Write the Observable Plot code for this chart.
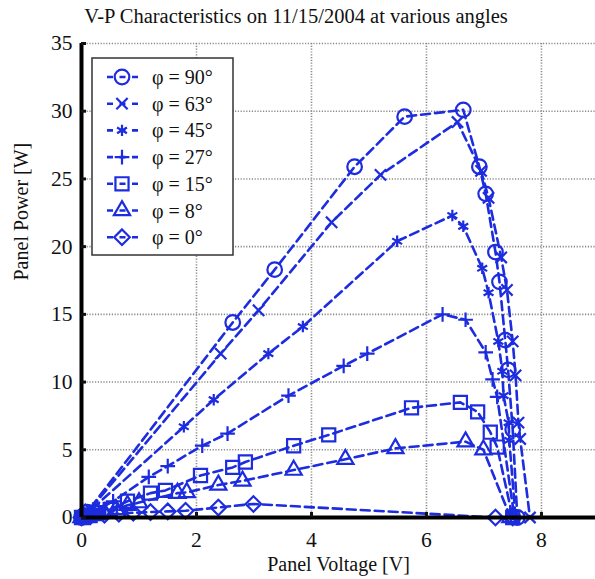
<!DOCTYPE html>
<html><head><meta charset="utf-8">
<script src="https://cdn.jsdelivr.net/npm/d3@7"></script>
<script src="https://cdn.jsdelivr.net/npm/@observablehq/plot@0.6"></script>
<style>
body{margin:0;background:#fff;}
#wrap{position:relative;width:595px;height:579px;overflow:hidden;font-family:"Liberation Serif","DejaVu Serif",serif;}
#title{position:absolute;left:0;top:5px;width:592px;text-align:center;font-size:20.5px;color:#111;white-space:nowrap;}
#chart{position:absolute;left:0;top:35px;}
</style></head>
<body>
<div id="wrap"><div id="title"></div><div id="chart"></div></div>
<script>
const titleText = "V-P Characteristics on 11/15/2004 at various angles";
const xLabel = "Panel Voltage [V]";
const yLabel = "Panel Power [W]";
const xTicks = [0, 2, 4, 6, 8];
const yTicks = [0, 5, 10, 15, 20, 25, 30, 35];

const seriesNames = ["φ = 90°", "φ = 63°", "φ = 45°", "φ = 27°", "φ = 15°", "φ = 8°", "φ = 0°"];
const seriesSymbols = ["circle", "times", "asterisk", "plus", "square", "triangle", "diamond2"];

const v90 = [0, 0.04, 0.1, 2.63, 3.36, 4.75, 5.62, 6.64, 6.92, 7.03, 7.2, 7.27, 7.37, 7.42, 7.5, 7.58];
const p90 = [0, 0.15, 0.4, 14.4, 18.3, 25.9, 29.6, 30.1, 25.9, 23.9, 19.6, 17.4, 13.1, 10.9, 6.5, 0];
const v63 = [0, 0.06, 0.15, 2.42, 3.08, 4.35, 5.2, 6.54, 6.95, 7.08, 7.3, 7.4, 7.5, 7.55, 7.6, 7.63, 7.8];
const p63 = [0, 0.2, 0.6, 12.1, 15.3, 21.8, 25.3, 29.2, 25.6, 23.6, 19.2, 16.8, 13.0, 10.5, 7.0, 5.8, 0];
const v45 = [0, 0.08, 0.2, 1.78, 2.3, 3.25, 3.85, 5.49, 6.45, 6.64, 6.97, 7.08, 7.25, 7.32, 7.34, 7.43, 7.44, 7.55];
const p45 = [0, 0.25, 0.7, 6.7, 8.7, 12.1, 14.1, 20.4, 22.3, 21.5, 18.4, 16.6, 13.0, 10.8, 9.0, 7.0, 5.7, 0];
const v27 = [0, 0.12, 0.3, 0.55, 1.17, 1.5, 2.1, 2.54, 3.6, 4.56, 4.97, 6.28, 6.68, 7.03, 7.15, 7.23, 7.53];
const p27 = [0, 0.25, 0.6, 1.2, 3.0, 3.8, 5.3, 6.2, 9.0, 11.2, 12.1, 15.0, 14.6, 12.2, 10.2, 8.9, 0];
const v15 = [0, 0.15, 0.3, 0.5, 0.8, 1.2, 1.46, 2.07, 2.63, 2.85, 3.69, 4.3, 5.74, 6.59, 6.89, 7.11, 7.23, 7.5];
const p15 = [0, 0.15, 0.35, 0.6, 1.2, 1.8, 2.0, 3.1, 3.7, 4.1, 5.3, 6.1, 8.1, 8.5, 7.8, 6.3, 5.2, 0];
const v8 = [0, 0.2, 0.4, 0.6, 0.8, 1.0, 1.67, 1.83, 2.38, 2.8, 3.69, 4.59, 5.46, 6.68, 6.99, 7.46];
const p8 = [0, 0.15, 0.35, 0.6, 0.9, 1.1, 1.8, 1.85, 2.4, 2.7, 3.5, 4.3, 5.1, 5.6, 5.0, 0];
const v0 = [0, 0.15, 0.4, 0.65, 0.9, 1.2, 1.5, 1.81, 2.38, 2.99, 7.2, 7.5];
const p0 = [0, 0.08, 0.2, 0.28, 0.35, 0.4, 0.45, 0.5, 0.74, 1.0, 0.0, 0];

const voltages = [v90, v63, v45, v27, v15, v8, v0];
const powers = [p90, p63, p45, p27, p15, p8, p0];
const markerR = [7.3, 5.2, 5.4, 4.8, 7.4, 6.0, 7.0];

const blue = "rgb(28,44,222)";
const serif = "'Liberation Serif','DejaVu Serif',serif";

const rows = [];
seriesNames.forEach((name, i) => {
  voltages[i].forEach((v, j) => rows.push({series: name, idx: i, V: v, P: powers[i][j]}));
});

document.getElementById("title").textContent = titleText;

const marks = [
  Plot.gridX(xTicks.filter(d => d > 0), {stroke: "#8a8a8a", strokeOpacity: 1, strokeWidth: 1.6, strokeDasharray: "1.2,1.6"}),
  Plot.gridY(yTicks.filter(d => d > 0), {stroke: "#8a8a8a", strokeOpacity: 1, strokeWidth: 1.6, strokeDasharray: "1.2,1.6"}),
];
seriesNames.forEach((name, i) => {
  const d = rows.filter(r => r.idx === i);
  marks.push(Plot.line(d, {x: "V", y: "P", stroke: blue, strokeWidth: 2.6, strokeDasharray: "9,5"}));
  marks.push(Plot.dot(d, {x: "V", y: "P", symbol: () => seriesSymbols[i], r: markerR[i], stroke: blue, strokeWidth: 2.2, fill: "none"}));
});
marks.push(
  Plot.ruleX([0], {y1: 0, y2: 35, stroke: "black", strokeWidth: 4}),
  Plot.ruleY([0], {stroke: "black", strokeWidth: 4}),
  Plot.axisY({ticks: yTicks, tickSize: -5, strokeWidth: 3, text: null, label: null}),
  Plot.axisX({ticks: xTicks.filter(d => d > 0), tickSize: -5, strokeWidth: 3, text: null, label: null}),
  Plot.axisY({ticks: yTicks, tickSize: 0, tickPadding: 9, fontSize: 21.5, label: null}),
  Plot.axisX({ticks: xTicks, tickSize: 0, tickPadding: 14, fontSize: 21.5, label: null}),
  Plot.text([xLabel], {frameAnchor: "bottom", lineAnchor: "middle", dy: 47, fontSize: 20, fill: "#111"}),
  Plot.text([yLabel], {frameAnchor: "left", dx: -60, rotate: -90, fontSize: 20, fill: "#111"})
);

const svg = Plot.plot({
  width: 595, height: 544,
  marginLeft: 81, marginRight: 0, marginTop: 8, marginBottom: 62,
  style: {fontFamily: serif, color: "#111", background: "white", overflow: "visible"},
  x: {domain: [0, 8.94]},
  y: {domain: [0, 35]},
  marks
});
document.getElementById("chart").appendChild(svg);

// legend (overlay drawn in the same SVG, content from series arrays)
const lg = d3.select(svg).append("g").attr("transform", "translate(92,23)");
lg.append("rect").attr("width", 141).attr("height", 197).attr("fill", "white").attr("stroke", "#333").attr("stroke-width", 1.5);
const symMap = {circle: d3.symbolCircle, times: d3.symbolTimes, asterisk: d3.symbolAsterisk, plus: d3.symbolPlus, square: d3.symbolSquare, triangle: d3.symbolTriangle, diamond2: d3.symbolDiamond2};
seriesNames.forEach((name, i) => {
  const yy = 19 + i * 26.7;
  const g = lg.append("g").attr("transform", `translate(0,${yy})`);
  g.append("line").attr("x1", 15).attr("x2", 48).attr("stroke", blue).attr("stroke-width", 2.6).attr("stroke-dasharray", "6,6.5");
  g.append("path").attr("transform", "translate(30,0)").attr("d", d3.symbol(symMap[seriesSymbols[i]], Math.PI * markerR[i] * markerR[i])())
    .attr("fill", "none").attr("stroke", blue).attr("stroke-width", 2.2);
  g.append("text").attr("x", 60).attr("y", 0).attr("dy", "0.35em").attr("text-anchor", "start").attr("font-size", 20).attr("fill", "#111").attr("font-family", serif).text(name);
});
</script>
</body></html>
